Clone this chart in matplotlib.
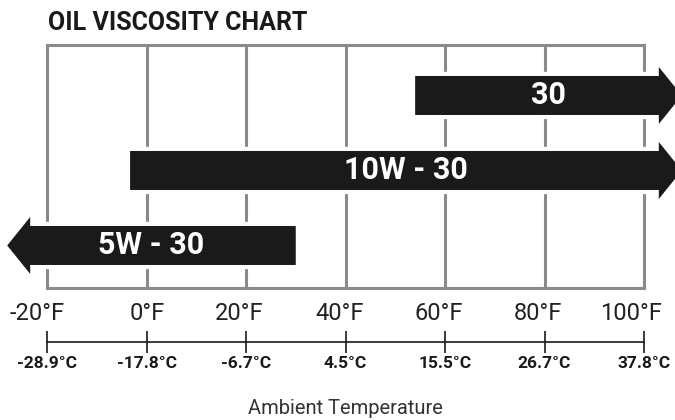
import matplotlib
matplotlib.use('Agg')
import matplotlib.pyplot as plt
from matplotlib.patches import FancyArrow
from matplotlib.transforms import ScaledTranslation

plt.rcParams['font.family'] = ['Roboto', 'DejaVu Sans']

# Dados: faixas de temperatura (°F) para cada grau de óleo
graus = ['30', '10W - 30', '5W - 30']
temp_min = [54, -3.3, None]   # None = sem limite inferior (seta para a esquerda)
temp_max = [None, None, 30]   # None = sem limite superior (seta para a direita)

ticks_f = [-20, 0, 20, 40, 60, 80, 100]
labels_f = ['-20°F', '0°F', '20°F', '40°F', '60°F', '80°F', '100°F']
labels_c = ['-28.9°C', '-17.8°C', '-6.7°C', '4.5°C', '15.5°C', '26.7°C', '37.8°C']

# limites das setas abertas (fora do quadro)
borda_esq = -28.0
borda_dir = 107.6

W, H = 675, 420
fig = plt.figure(figsize=(W / 100, H / 100), dpi=100)

x0, x1 = 47, 644
y_top, y_bot = 45, 288
ax = fig.add_axes([x0 / W, 1 - y_bot / H, (x1 - x0) / W, (y_bot - y_top) / H])
ax.set_xlim(-20, 100)
ax.set_ylim(2.567, -0.673)

cinza = '#8a8a8a'
preto = '#1a1a1a'
for s in ax.spines.values():
    s.set_color(cinza)
    s.set_linewidth(2.2)
    s.set_zorder(1)
for t in ticks_f[1:-1]:
    ax.axvline(t, color=cinza, lw=2.2, zorder=1)

px_f = (x1 - x0) / 120.0
alt_barra = 39 / 75
alt_cabeca = 57 / 75
comp_cabeca = 23 / px_f

for i, (g, lo, hi) in enumerate(zip(graus, temp_min, temp_max)):
    if lo is None:
        ini, fim = hi, borda_esq
    else:
        ini = lo
        fim = hi if hi is not None else borda_dir
    for ec, lw, z in [('white', 6, 3), ('none', 0, 4)]:
        seta = FancyArrow(ini, i, fim - ini, 0, width=alt_barra, head_width=alt_cabeca,
                          head_length=comp_cabeca, length_includes_head=True,
                          facecolor=preto, edgecolor=ec, linewidth=lw,
                          joinstyle='miter', clip_on=False, zorder=z)
        ax.add_patch(seta)
    ax.text((ini + fim) / 2, i, g, color='white', fontsize=22, fontweight='bold',
            ha='center', va='center', zorder=5)

ax.set_yticks([])
ax.set_xticks(ticks_f)
ax.set_xticklabels(labels_f, fontsize=17, color='#222222')
ax.tick_params(axis='x', length=0, pad=10)
for lab in ax.get_xticklabels():
    lab.set_ha('right')
    lab.set_transform(lab.get_transform() + ScaledTranslation(18 / 100, 0, fig.dpi_scale_trans))

# escala em Celsius
axc = fig.add_axes([x0 / W, 1 - 342 / H, (x1 - x0) / W, 0.0001])
axc.set_xlim(-20, 100)
for k in ['top', 'left', 'right']:
    axc.spines[k].set_visible(False)
axc.spines['bottom'].set_linewidth(1.2)
axc.spines['bottom'].set_color(preto)
axc.set_yticks([])
axc.set_xticks(ticks_f)
axc.set_xticklabels(labels_c, fontsize=12.5, fontweight='bold', color=preto)
axc.tick_params(axis='x', direction='inout', length=15.8, width=1.2, color=preto, pad=2)
axc.patch.set_visible(False)

fig.text(48 / W, 1 - 22.5 / H, 'OIL VISCOSITY CHART', fontsize=18, fontweight='bold',
         color=preto, ha='left', va='center')
fig.text((x0 + x1) / 2 / W, 1 - 408 / H, 'Ambient Temperature', fontsize=14.5,
         color='#333333', ha='center', va='center')

fig.savefig('out.png', dpi=100)
